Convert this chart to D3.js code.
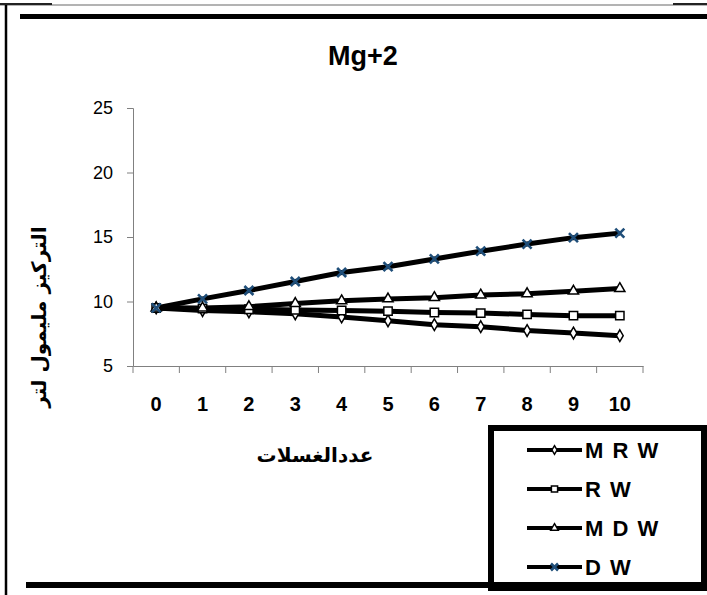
<!DOCTYPE html>
<html lang="ar">
<head>
  <meta charset="UTF-8" />
  <script src="https://d3js.org/d3.v7.min.js"></script>
  <title>Mg+2</title>
  <style>
    body { margin: 0; background: #fff; }
    svg text { font-family: "Liberation Sans", Arial, "DejaVu Sans", sans-serif; }
  </style>
</head>
<body>
  <div id="chart"></div>
  <script>
    // washes count
    const categories = ["0", "1", "2", "3", "4", "5", "6", "7", "8", "9", "10"];
    const mrw = [9.5, 9.3, 9.2, 9.05, 8.8, 8.5, 8.2, 8.05, 7.75, 7.55, 7.35];
    const rw  = [9.5, 9.45, 9.4, 9.35, 9.3, 9.25, 9.15, 9.1, 9.0, 8.9, 8.9];
    const mdw = [9.5, 9.5, 9.6, 9.85, 10.05, 10.2, 10.3, 10.5, 10.6, 10.8, 11.0];
    const dw  = [9.5, 10.2, 10.85, 11.55, 12.25, 12.7, 13.3, 13.9, 14.45, 14.95, 15.3];
    const yTicks = [5, 10, 15, 20, 25];
    const seriesNames = ["M R W", "R W", "M D W", "D W"];

    const width = 707, height = 595;
    const svg = d3.select("#chart").append("svg")
      .attr("width", width)
      .attr("height", height);

    // frame bits
    svg.append("line").attr("x1", 0).attr("x2", width).attr("y1", 5).attr("y2", 5)
      .attr("stroke", "#9a9a9a").attr("stroke-width", 1.5);
    svg.append("line").attr("x1", 0).attr("x2", 52).attr("y1", 4).attr("y2", 4)
      .attr("stroke", "#222").attr("stroke-width", 2);
    svg.append("line").attr("x1", 673).attr("x2", width).attr("y1", 4).attr("y2", 4)
      .attr("stroke", "#222").attr("stroke-width", 2);
    svg.append("line").attr("x1", 6).attr("x2", 6).attr("y1", 5).attr("y2", height)
      .attr("stroke", "#000").attr("stroke-width", 2.5);
    svg.append("line").attr("x1", 20).attr("x2", width).attr("y1", 16.5).attr("y2", 16.5)
      .attr("stroke", "#000").attr("stroke-width", 5);

    const x = d3.scaleBand().domain(categories).range([133, 643]).padding(0);
    const y = d3.scaleLinear().domain([5, 25]).range([366, 108]);
    const cx = c => x(c) + x.bandwidth() / 2;

    // title
    svg.append("text")
      .attr("x", 363).attr("y", 65)
      .attr("text-anchor", "middle")
      .attr("font-size", "27px").attr("font-weight", "bold")
      .text("Mg+2");

    // y axis
    const yAxis = svg.append("g")
      .attr("transform", "translate(133,0)")
      .call(d3.axisLeft(y).tickValues(yTicks).tickSize(6).tickPadding(14));
    yAxis.select(".domain").attr("stroke", "#808080");
    yAxis.selectAll(".tick line").attr("stroke", "#808080");
    yAxis.selectAll("text").attr("font-size", "18px").attr("fill", "#000")
      .style("font-family", "'Liberation Sans', Arial, sans-serif");

    // x axis: ticks sit between categories
    const xAxis = svg.append("g")
      .attr("transform", "translate(0,366)")
      .call(d3.axisBottom(x).tickSize(0).tickPadding(31).tickSizeOuter(0));
    xAxis.select(".domain").attr("stroke", "#808080");
    xAxis.selectAll("text").attr("font-size", "20px").attr("font-weight", "bold").attr("fill", "#000")
      .style("font-family", "'Liberation Sans', Arial, sans-serif");
    const edges = categories.map(c => x(c)).concat([x.range()[1]]);
    svg.selectAll(".xtick").data(edges).enter().append("line")
      .attr("class", "xtick")
      .attr("x1", d => d).attr("x2", d => d)
      .attr("y1", 366).attr("y2", 373)
      .attr("stroke", "#808080");

    // axis titles
    svg.append("text")
      .attr("transform", "translate(46,317) rotate(-90)")
      .attr("text-anchor", "middle")
      .attr("font-size", "20px").attr("font-weight", "bold")
      .style("font-family", "'DejaVu Sans', sans-serif")
      .text("التركيز مليمول لتر");
    svg.append("text")
      .attr("x", 315).attr("y", 462)
      .attr("text-anchor", "middle")
      .attr("font-size", "20px").attr("font-weight", "bold")
      .style("font-family", "'DejaVu Sans', sans-serif")
      .text("عددالغسلات");

    const xPath = s => `M${-s},${-s}L${s},${s}M${-s},${s}L${s},${-s}`;
    const markers = [
      { type: d3.symbolDiamond, size: 40, fill: "#fff", stroke: "#000" },
      { type: d3.symbolSquare, size: 70, fill: "#fff", stroke: "#000" },
      { type: d3.symbolTriangle, size: 45, fill: "#fff", stroke: "#000" },
      { type: null, size: 4.5, fill: "none", stroke: "#1f4e79" }
    ];
    const allSeries = [mrw, rw, mdw, dw];

    const line = d3.line().x((d, i) => cx(categories[i])).y(d => y(d));

    allSeries.forEach(vals => {
      svg.append("path")
        .datum(vals)
        .attr("fill", "none")
        .attr("stroke", "#000")
        .attr("stroke-width", 5)
        .attr("stroke-linejoin", "round")
        .attr("d", line);
    });

    function drawMarker(g, m, px, py) {
      const p = g.append("path")
        .attr("transform", `translate(${px},${py})`)
        .attr("fill", m.fill)
        .attr("stroke", m.stroke);
      if (m.type) {
        p.attr("d", d3.symbol().type(m.type).size(m.size)()).attr("stroke-width", 1.5);
      } else {
        p.attr("d", xPath(m.size)).attr("stroke-width", 2.6);
      }
    }

    allSeries.forEach((vals, si) => {
      const g = svg.append("g");
      vals.forEach((v, i) => drawMarker(g, markers[si], cx(categories[i]), y(v)));
    });

    // legend
    svg.append("rect")
      .attr("x", 491).attr("y", 428)
      .attr("width", 213).attr("height", 160)
      .attr("fill", "#fff").attr("stroke", "#000").attr("stroke-width", 6);
    svg.append("line").attr("x1", 26).attr("x2", width).attr("y1", 585).attr("y2", 585)
      .attr("stroke", "#000").attr("stroke-width", 6);

    seriesNames.forEach((name, i) => {
      const ly = 450 + i * 39;
      const g = svg.append("g");
      g.append("line")
        .attr("x1", 527).attr("x2", 582).attr("y1", ly).attr("y2", ly)
        .attr("stroke", "#000").attr("stroke-width", 4);
      const m = Object.assign({}, markers[i]);
      if (m.type) m.size = m.size * 0.55; else m.size = 3.5;
      drawMarker(g, m, 554.5, ly);
      g.append("text")
        .attr("x", 585).attr("y", ly + 8)
        .attr("font-size", "22px").attr("font-weight", "bold")
        .attr("letter-spacing", "1.5px")
        .text(name);
    });
  </script>
</body>
</html>
